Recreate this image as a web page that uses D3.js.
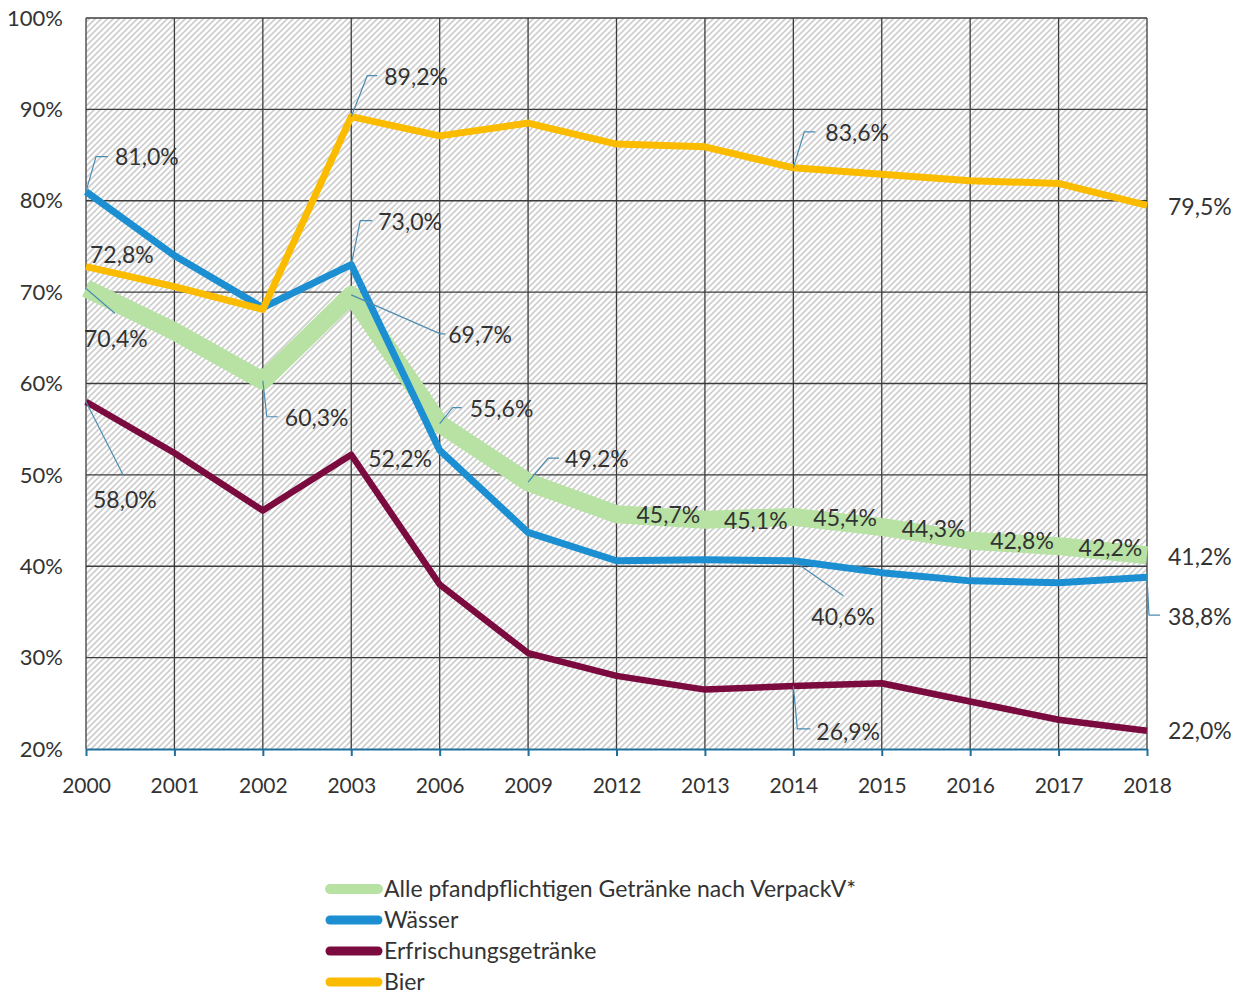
<!DOCTYPE html>
<html>
<head>
<meta charset="utf-8">
<script src="https://cdn.jsdelivr.net/npm/d3@7"></script>
<style>
  body { margin: 0; background: #fff; }
  svg text { font-family: Lato, "Open Sans", sans-serif; fill: #333; }
</style>
</head>
<body>
<svg id="chart" width="1241" height="994"></svg>
<script>
"use strict";

// categories (x axis)
var years = ["2000","2001","2002","2003","2006","2009","2012","2013","2014","2015","2016","2017","2018"];
var yTicks = [20, 30, 40, 50, 60, 70, 80, 90, 100];

// series values, percent
var alle = [70.4, 65.7, 60.3, 69.7, 55.6, 49.2, 45.7, 45.1, 45.4, 44.3, 42.8, 42.2, 41.2];
var waesser = [81.0, 74.0, 68.3, 73.0, 52.7, 43.7, 40.6, 40.7, 40.6, 39.3, 38.4, 38.2, 38.8];
var erfrischung = [58.0, 52.4, 46.1, 52.2, 38.0, 30.5, 28.0, 26.5, 26.9, 27.2, 25.2, 23.2, 22.0];
var bier = [72.8, 70.6, 68.1, 89.2, 87.1, 88.5, 86.2, 85.9, 83.6, 82.9, 82.2, 81.9, 79.5];

var seriesNames = ["Alle pfandpflichtigen Getränke nach VerpackV*", "Wässer", "Erfrischungsgetränke", "Bier"];

var series = [
  {name: seriesNames[0], values: alle, color: "#b7e2a3", width: 18, legendWidth: 10},
  {name: seriesNames[1], values: waesser, color: "#1b8fd2", width: 7, legendWidth: 9},
  {name: seriesNames[2], values: erfrischung, color: "#7b0a3f", width: 6.5, legendWidth: 9},
  {name: seriesNames[3], values: bier, color: "#fbbc00", width: 7, legendWidth: 9}
];

// which data points get labels, and where the label sits relative to its point (px)
// leader: elbow point and end point, relative to the data point
var labelLayout = [
  {s: 1, i: 0,  dx: 29, dy: -35, leader: [[10,-35],[22,-35]]},
  {s: 3, i: 0,  dx: 4,  dy: -12},
  {s: 0, i: 0,  dx: -2, dy: 50,  leader: [[29,25]]},
  {s: 2, i: 0,  dx: 7,  dy: 98,  leader: [[37,73]]},
  {s: 0, i: 2,  dx: 22, dy: 37,  leader: [[4,36],[15,36]]},
  {s: 3, i: 3,  dx: 33, dy: -40, leader: [[16,-41],[26,-41]]},
  {s: 1, i: 3,  dx: 27, dy: -43, leader: [[9,-44],[21,-44]]},
  {s: 0, i: 3,  dx: 97, dy: 40,  leader: [[89,39],[94,39]]},
  {s: 0, i: 4,  dx: 30, dy: -15, leader: [[13,-16],[22,-16]]},
  {s: 2, i: 3,  dx: 17, dy: 4},
  {s: 0, i: 5,  dx: 37, dy: -23, leader: [[20,-24],[31,-24]]},
  {s: 0, i: 6,  dx: 20, dy: 1},
  {s: 0, i: 7,  dx: 19, dy: 1},
  {s: 0, i: 8,  dx: 20, dy: 1},
  {s: 0, i: 9,  dx: 20, dy: 2},
  {s: 0, i: 10, dx: 20, dy: 0},
  {s: 0, i: 11, dx: 20, dy: 2},
  {s: 0, i: 12, dx: 21, dy: 2},
  {s: 1, i: 8,  dx: 18, dy: 56,  leader: [[50,35]]},
  {s: 1, i: 12, dx: 21, dy: 40,  leader: [[2,38],[13,38]]},
  {s: 2, i: 8,  dx: 23, dy: 46,  leader: [[4,43],[17,43]]},
  {s: 2, i: 12, dx: 21, dy: 0},
  {s: 3, i: 12, dx: 21, dy: 2},
  {s: 3, i: 8,  dx: 32, dy: -35, leader: [[11,-36],[22,-36]]}
];

var svg = d3.select("#chart");
var plot = {left: 86, right: 1147, top: 18, bottom: 749};

var x = d3.scalePoint().domain(years).range([plot.left, plot.right]);
var y = d3.scaleLinear().domain([20, 100]).range([plot.bottom, plot.top]);

var de = d3.formatLocale({decimal: ",", thousands: ".", grouping: [3], currency: ["", " €"]});
var fmt = de.format(".1f");

// hatched plot background
var defs = svg.append("defs");
defs.append("pattern")
  .attr("id", "hatch")
  .attr("patternUnits", "userSpaceOnUse")
  .attr("width", 6).attr("height", 6)
  .append("path")
  .attr("d", "M-1,1 l2,-2 M0,6 l6,-6 M5,7 l2,-2")
  .attr("stroke", "#cdcdcd")
  .attr("stroke-width", 1.6);

svg.append("rect")
  .attr("x", plot.left).attr("y", plot.top)
  .attr("width", plot.right - plot.left).attr("height", plot.bottom - plot.top)
  .attr("fill", "url(#hatch)");

// grid
svg.append("g").selectAll("line")
  .data(yTicks.filter(function(d){ return d > 20; }))
  .join("line")
  .attr("x1", plot.left).attr("x2", plot.right)
  .attr("y1", function(d){ return y(d); }).attr("y2", function(d){ return y(d); })
  .attr("stroke", "#3c3c3c").attr("stroke-width", 1.3);

svg.append("g").selectAll("line")
  .data(years)
  .join("line")
  .attr("x1", function(d){ return x(d); }).attr("x2", function(d){ return x(d); })
  .attr("y1", plot.top).attr("y2", plot.bottom)
  .attr("stroke", "#3c3c3c").attr("stroke-width", 1.3);

// y axis labels
svg.append("g").selectAll("text")
  .data(yTicks)
  .join("text")
  .attr("x", 63)
  .attr("y", function(d){ return y(d); })
  .attr("dy", "0.35em")
  .attr("text-anchor", "end")
  .style("font-size", "22px")
  .text(function(d){ return d + "%"; });

// x axis
var xAxis = d3.axisBottom(x).tickSize(7).tickSizeOuter(0).tickPadding(22);
var gx = svg.append("g").attr("transform", "translate(0," + plot.bottom + ")").call(xAxis);
gx.select(".domain").attr("stroke", "#1f6e9c").attr("stroke-width", 2.2);
gx.selectAll(".tick line").attr("stroke", "#1f6e9c").attr("stroke-width", 2);
gx.selectAll(".tick text")
  .style("font-family", "Lato, 'Open Sans', sans-serif")
  .style("font-size", "21px")
  .attr("fill", "#333");

// lines
var line = d3.line()
  .x(function(d, i){ return x(years[i]); })
  .y(function(d){ return y(d); });

svg.append("g").selectAll("path")
  .data(series)
  .join("path")
  .attr("d", function(d){ return line(d.values); })
  .attr("fill", "none")
  .attr("stroke", function(d){ return d.color; })
  .attr("stroke-width", function(d){ return d.width; })
  .attr("stroke-linejoin", "round")
  .attr("stroke-linecap", "butt");

// data labels with leader lines
var lab = svg.append("g");
labelLayout.forEach(function(l) {
  var v = series[l.s].values[l.i];
  var px = x(years[l.i]), py = y(v);
  if (l.leader) {
    var pts = [[px, py]].concat(l.leader.map(function(p){ return [px + p[0], py + p[1]]; }));
    lab.append("path")
      .attr("d", d3.line()(pts))
      .attr("fill", "none")
      .attr("stroke", "#4b8cb2")
      .attr("stroke-width", 1.2);
  }
  lab.append("text")
    .attr("x", px + l.dx)
    .attr("y", py + l.dy)
    .attr("dy", "0.35em")
    .style("font-size", "23px")
    .text(fmt(v) + "%");
});

// legend
var legend = svg.append("g").selectAll("g")
  .data(series)
  .join("g")
  .attr("transform", function(d, i){ return "translate(330," + (889 + i * 31) + ")"; });

legend.append("line")
  .attr("x1", 0).attr("x2", 48)
  .attr("stroke", function(d){ return d.color; })
  .attr("stroke-width", function(d){ return d.legendWidth; })
  .attr("stroke-linecap", "round");

legend.append("text")
  .attr("x", 54)
  .attr("dy", "0.35em")
  .style("font-size", "23px")
  .text(function(d){ return d.name; });
</script>
</body>
</html>
